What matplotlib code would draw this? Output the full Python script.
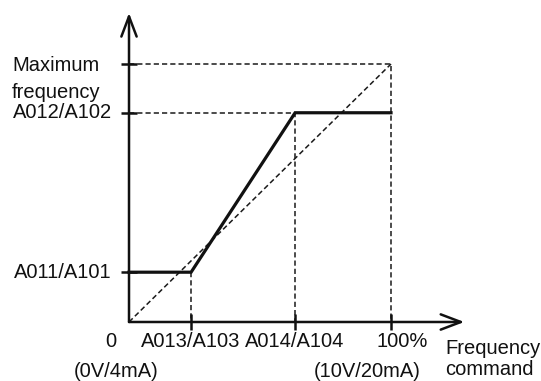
import matplotlib.pyplot as plt

# Frequency command points (% of full scale input)
CMD_START = 23.7   # A013/A103
CMD_END = 63.4     # A014/A104
CMD_MAX = 100.0    # 100% (10V/20mA)

# Output frequency levels (% of maximum frequency)
FREQ_START = 19.3  # A011/A101
FREQ_END = 81.1    # A012/A102
FREQ_MAX = 100.0   # Maximum frequency

curve_x = [0, CMD_START, CMD_END, CMD_MAX]
curve_y = [FREQ_START, FREQ_START, FREQ_END, FREQ_END]

x_ticks = [CMD_START, CMD_END, CMD_MAX]
x_labels = ["A013/A103", "A014/A104", "100%"]
y_ticks = [FREQ_START, FREQ_END, FREQ_MAX]
y_labels = ["A011/A101", "A012/A102", ""]

FONT = "Liberation Sans"
FS = 14.5
INK = "#111111"

plt.rcParams["font.family"] = [FONT, "DejaVu Sans"]

fig = plt.figure(figsize=(5.41, 3.81), dpi=100)
ax = fig.add_axes([0, 0, 1, 1])
ax.set_xlim(-49.24, 157.25)
ax.set_ylim(-22.87, 124.8)
ax.axis("off")

# Reference (dashed) lines
dash = dict(color="#1a1a1a", lw=1.1, dashes=(3.4, 2.0), zorder=1)
ax.plot([0, CMD_MAX], [0, FREQ_MAX], **dash)
ax.plot([0, CMD_MAX, CMD_MAX], [FREQ_MAX, FREQ_MAX, 0], **dash)
ax.plot([0, CMD_END, CMD_END], [FREQ_END, FREQ_END, 0], **dash)
ax.plot([CMD_START, CMD_START], [FREQ_START, 0], **dash)

# Axes with open arrow heads
arrow = dict(arrowstyle="->,head_length=1.45,head_width=0.55",
             mutation_scale=10, lw=1.8, color=INK, shrinkA=0, shrinkB=0)
ax.annotate("", xy=(0, 119.8), xytext=(0, 0), arrowprops=arrow)
ax.annotate("", xy=(128.0, 0), xytext=(0, 0), arrowprops=arrow)

# Tick marks
ax.plot([0] * len(y_ticks), y_ticks, ls="none", marker="_", ms=11.5,
        mew=1.8, color=INK, zorder=3)
ax.plot(x_ticks, [0] * len(x_ticks), ls="none", marker="|", ms=11.5,
        mew=1.8, color=INK, zorder=3)

# Characteristic curve
ax.plot(curve_x, curve_y, color=INK, lw=2.3, solid_joinstyle="miter",
        zorder=4)

# Y labels
for y, lab in zip(y_ticks, y_labels):
    if lab:
        ax.text(-6.5, y, lab, ha="right", va="center", fontsize=FS,
                color=INK)
ax.text(-44.7, FREQ_MAX - 0.6, "Maximum", ha="left", va="center",
        fontsize=FS, color=INK)
ax.text(-44.7, 86.8, "frequency", ha="left", va="baseline", fontsize=FS,
        color=INK)

# X labels
ax.text(-6.9, -7.75, "0", ha="center", va="center", fontsize=FS, color=INK)
for x, lab in zip(x_ticks, x_labels):
    dx = 4.2 if lab == "100%" else 0
    ax.text(x + dx, -7.75, lab, ha="center", va="center", fontsize=FS,
            color=INK)
ax.text(-5.0, -19.0, "(0V/4mA)", ha="center", va="center", fontsize=FS,
        color=INK)
ax.text(91.0, -19.0, "(10V/20mA)", ha="center", va="center", fontsize=FS,
        color=INK)
ax.text(120.6, -10.2, "Frequency", ha="left", va="center", fontsize=FS,
        color=INK)
ax.text(120.6, -18.6, "command", ha="left", va="center", fontsize=FS,
        color=INK)

fig.savefig("out.png", dpi=100)
